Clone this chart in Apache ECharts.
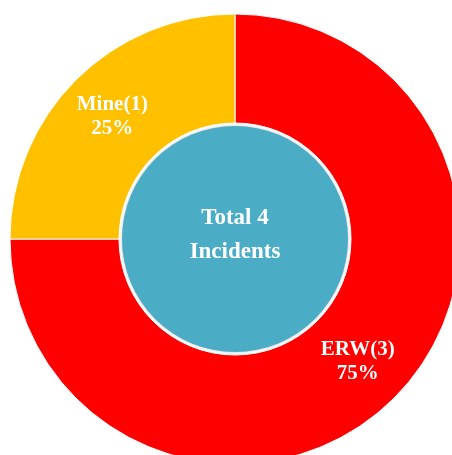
<!DOCTYPE html>
<html>
<head>
<meta charset="utf-8">
<script src="https://cdn.jsdelivr.net/npm/echarts@6/dist/echarts.min.js"></script>
<style>
  html, body { margin: 0; padding: 0; background: #fff; }
  #chart { width: 452px; height: 455px; }
</style>
</head>
<body>
<div id="chart"></div>
<script>
// incident types, clockwise from 12 o'clock
const categories = ['ERW', 'Mine'];
const counts = [3, 1];
const sliceColors = ['#ff0000', '#ffc000'];
const totalLabel = 'Incidents';

const total = counts.reduce((a, b) => a + b, 0);

const myChart = echarts.init(document.getElementById('chart'));
const option = {
    animation: false,
    series: [
        {
            type: 'pie',
            center: [235, 239],
            radius: [116, 225],
            startAngle: 90,
            clockwise: true,
            silent: true,
            itemStyle: {
                borderColor: '#ffffff',
                borderWidth: 1
            },
            label: {
                show: true,
                position: 'inside',
                color: '#ffffff',
                fontFamily: '"Liberation Serif", "Times New Roman", serif',
                fontWeight: 'bold',
                fontSize: 21,
                lineHeight: 24,
                formatter: function (p) {
                    return p.name + '(' + p.value + ')\n' + Math.round(p.percent) + '%';
                }
            },
            labelLine: { show: false },
            data: categories.map(function (c, i) {
                return { name: c, value: counts[i], itemStyle: { color: sliceColors[i] } };
            })
        },
        {
            type: 'pie',
            center: [235, 239],
            radius: [0, 113],
            silent: true,
            itemStyle: {
                color: '#4bacc6',
                shadowBlur: 3,
                shadowColor: 'rgba(0,0,0,0.25)'
            },
            label: {
                show: true,
                position: 'center',
                formatter: function () {
                    return '{a|Total ' + total + '}\n{a|' + totalLabel + '}\n{s| }';
                },
                rich: {
                    a: {
                        color: '#ffffff',
                        fontFamily: '"Liberation Serif", "Times New Roman", serif',
                        fontWeight: 'bold',
                        fontSize: 23,
                        lineHeight: 34
                    },
                    s: { fontSize: 4, lineHeight: 8 }
                }
            },
            labelLine: { show: false },
            data: [{ name: 'Total', value: total }]
        }
    ]
};
myChart.setOption(option);
</script>
</body>
</html>
